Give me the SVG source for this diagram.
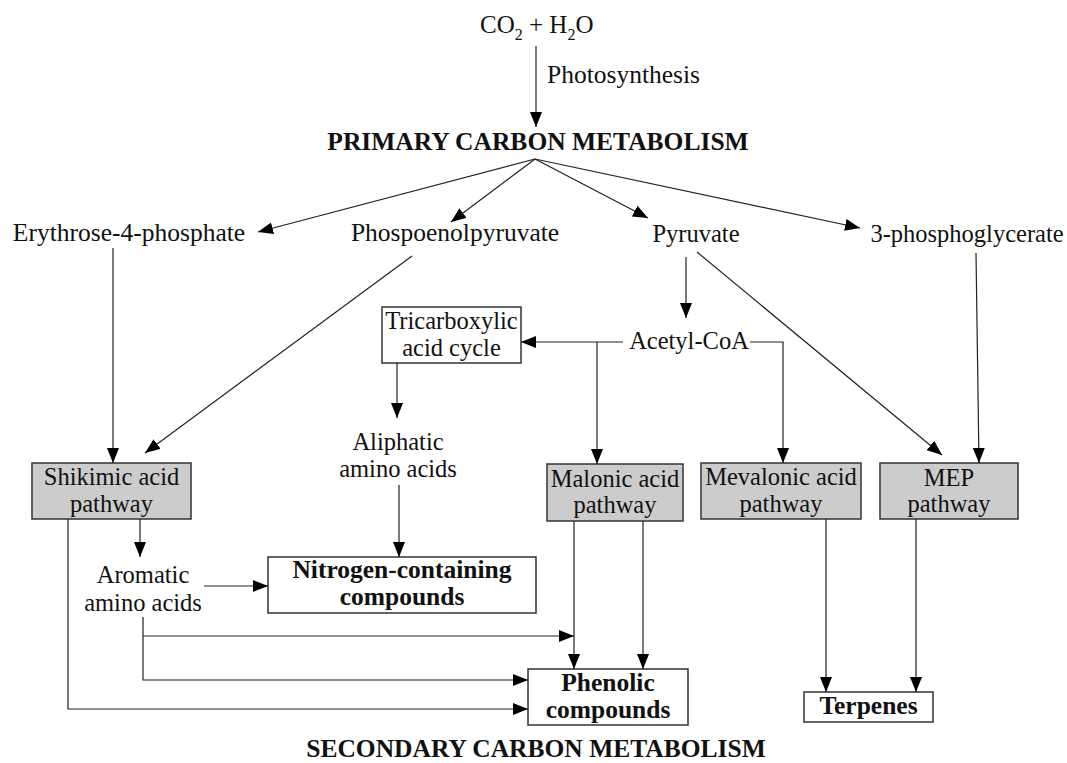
<svg xmlns="http://www.w3.org/2000/svg" width="1067" height="763" viewBox="0 0 1067 763">
<defs>
<marker id="ah" markerUnits="userSpaceOnUse" markerWidth="16" markerHeight="12" refX="15" refY="6" orient="auto">
<path d="M0,0 L15,6 L0,12 z" fill="#000"/>
</marker>
</defs>
<style>
text{font-family:"Liberation Serif","Times New Roman",serif;fill:#111;}
.t{font-size:24.5px;text-anchor:middle;}
.w{font-size:25.5px;text-anchor:middle;}
.b{font-size:25.5px;font-weight:bold;text-anchor:middle;}
.bx{fill:#fff;stroke:#333;stroke-width:1.5;}
.gb{fill:#cccccc;stroke:#333;stroke-width:1.5;}
.c path,.c line{fill:none;stroke:#222;stroke-width:1.2;}
.a{marker-end:url(#ah);}
</style>
<rect width="1067" height="763" fill="#fff"/>
<g id="co2">
<text x="480" y="33" style="font-size:25px">CO<tspan dy="7" style="font-size:16px">2</tspan><tspan dy="-7"> + H</tspan><tspan dy="7" style="font-size:16px">2</tspan><tspan dy="-7">O</tspan></text>
</g>
<g id="photosynthesis-label"><text x="547" y="83" style="font-size:25.5px">Photosynthesis</text></g>
<g id="primary"><text class="b" x="538" y="150">PRIMARY CARBON METABOLISM</text></g>
<g id="erythrose"><text class="w" x="129" y="241">Erythrose-4-phosphate</text></g>
<g id="pep"><text class="w" x="455" y="241">Phospoenolpyruvate</text></g>
<g id="pyruvate"><text class="t" x="696" y="242">Pyruvate</text></g>
<g id="phosphoglycerate"><text class="t" x="967" y="242">3-phosphoglycerate</text></g>
<g id="acetyl"><text class="t" x="689" y="349">Acetyl-CoA</text></g>
<g id="tca"><rect class="bx" x="382" y="307" width="139" height="56"/><text class="t" x="451.5" y="329">Tricarboxylic</text><text class="t" x="451.5" y="356">acid cycle</text></g>
<g id="aliphatic"><text class="t" x="398" y="450">Aliphatic</text><text class="t" x="398" y="477">amino acids</text></g>
<g id="shikimic"><rect class="gb" x="32" y="463" width="159" height="56"/><text class="t" x="111.5" y="485">Shikimic acid</text><text class="t" x="111.5" y="512">pathway</text></g>
<g id="malonic"><rect class="gb" x="547" y="464" width="136" height="57"/><text class="t" x="615" y="487">Malonic acid</text><text class="t" x="615" y="513">pathway</text></g>
<g id="mevalonic"><rect class="gb" x="701" y="463" width="160" height="56"/><text class="t" x="781" y="485">Mevalonic acid</text><text class="t" x="781" y="512">pathway</text></g>
<g id="mep"><rect class="gb" x="880" y="463" width="138" height="56"/><text class="t" x="949" y="486">MEP</text><text class="t" x="949" y="512">pathway</text></g>
<g id="aromatic"><text class="t" x="143" y="583">Aromatic</text><text class="t" x="143" y="611">amino acids</text></g>
<g id="nitrogen"><rect class="bx" x="268" y="557" width="268" height="56"/><text class="b" x="402" y="578">Nitrogen-containing</text><text class="b" x="402" y="605">compounds</text></g>
<g id="phenolic"><rect class="bx" x="528" y="669" width="160" height="56"/><text class="b" x="608" y="691">Phenolic</text><text class="b" x="608" y="718">compounds</text></g>
<g id="terpenes"><rect class="bx" x="804" y="692" width="129" height="30"/><text class="b" x="868.5" y="714">Terpenes</text></g>
<g id="secondary"><text class="b" x="536" y="757">SECONDARY CARBON METABOLISM</text></g>
<g id="connectors" class="c">
<line class="a" x1="536" y1="46" x2="536" y2="127"/>
<line class="a" x1="535" y1="159" x2="258" y2="232"/>
<line class="a" x1="535" y1="159" x2="451" y2="222"/>
<line class="a" x1="535" y1="159" x2="648" y2="218"/>
<line class="a" x1="535" y1="159" x2="860" y2="228"/>
<line class="a" x1="113" y1="248" x2="113" y2="463"/>
<line class="a" x1="412" y1="256" x2="145" y2="453"/>
<line class="a" x1="686" y1="257" x2="686" y2="318"/>
<line class="a" x1="623" y1="342" x2="521" y2="342"/>
<line class="a" x1="597" y1="342" x2="597" y2="464"/>
<path class="a" d="M750,342 H783 V463"/>
<line class="a" x1="697" y1="252" x2="942" y2="455"/>
<line class="a" x1="976" y1="253" x2="979" y2="463"/>
<line class="a" x1="397" y1="363" x2="397" y2="418"/>
<line class="a" x1="399" y1="485" x2="399" y2="557"/>
<line class="a" x1="140" y1="519" x2="140" y2="557"/>
<line class="a" x1="204" y1="586" x2="268" y2="586"/>
<path class="a" d="M143,617 V680 H528"/>
<line class="a" x1="143" y1="636" x2="574" y2="636"/>
<path class="a" d="M68,519 V709 H528"/>
<line class="a" x1="574" y1="521" x2="574" y2="669"/>
<line class="a" x1="643" y1="521" x2="643" y2="669"/>
<line class="a" x1="826" y1="519" x2="826" y2="692"/>
<line class="a" x1="916" y1="519" x2="916" y2="692"/>
</g>
</svg>
